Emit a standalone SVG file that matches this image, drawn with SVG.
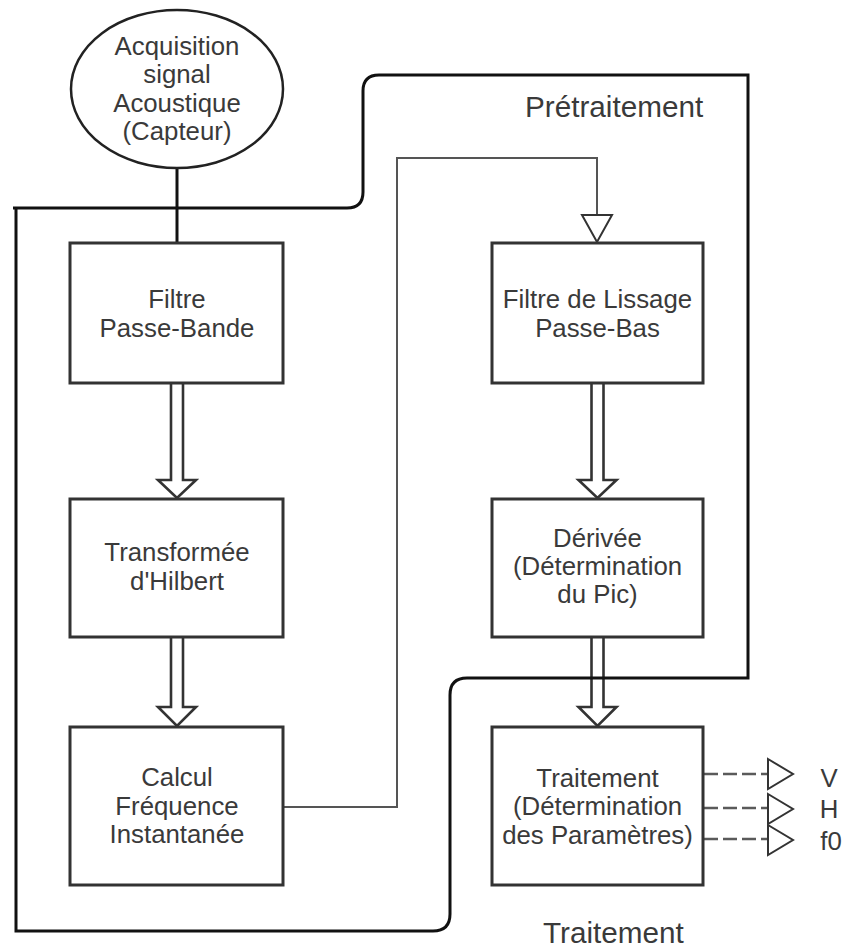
<svg xmlns="http://www.w3.org/2000/svg" width="846" height="948" viewBox="0 0 846 948">
  <style>
    .box { fill: #ffffff; stroke: #333333; stroke-width: 3; }
    .ell { fill: #ffffff; stroke: #222222; stroke-width: 2.5; }
    .txt { font-family: "Liberation Sans", Arial, sans-serif; font-size: 25.8px; fill: #3a3a3a; text-anchor: middle; }
    .lbl { font-family: "Liberation Sans", Arial, sans-serif; font-size: 29.7px; fill: #3a3a3a; }
    .flex { fill: #ffffff; stroke: #333333; stroke-width: 2.6; stroke-linejoin: miter; }
    .bound { fill: none; stroke: #111111; stroke-width: 3; }
    .thin { fill: none; stroke: #555555; stroke-width: 2; }
    .dash { fill: none; stroke: #5a5a5a; stroke-width: 2.5; stroke-dasharray: 14 5; }
    .open { fill: #ffffff; stroke: #333333; stroke-width: 2; stroke-linejoin: miter; }
  </style>
  <rect width="846" height="948" fill="#ffffff"/>

  <g id="connectors">
    <line x1="177" y1="168" x2="177" y2="243" stroke="#111111" stroke-width="3"/>
    <path class="thin" d="M283,807 H397 V158 H597 V215"/>
    <path class="open" d="M582,215 H612 L597,242 Z"/>
    <path class="flex" d="M171,384 V480 H158 L177,498 L196,480 H183 V384"/>
    <path class="flex" d="M171,638 V707 H158 L177,726 L196,707 H183 V638"/>
    <path class="flex" d="M591.5,384 V480 H578.5 L597.5,498 L616.5,480 H603.5 V384"/>
    <path class="flex" d="M591.5,638 V707 H578.5 L597.5,726 L616.5,707 H603.5 V638"/>
    <path class="dash" d="M704,774 H768"/>
    <path class="dash" d="M704,808 H768"/>
    <path class="dash" d="M704,839 H768"/>
    <path class="open" d="M768,759 L793,774 L768,789 Z"/>
    <path class="open" d="M768,794 L793,809 L768,824 Z"/>
    <path class="open" d="M768,825 L793,840 L768,855 Z"/>
  </g>

  <g id="boundaries">
    <path class="bound" d="M13,208 H347 Q363,208 363,192 V91 Q363,75 379,75 H748 V678 H467 Q450,678 450,695 V914 Q450,931 433,931 H16 V208"/>
  </g>

  <g id="acquisition">
    <ellipse class="ell" cx="177" cy="89" rx="106" ry="79"/>
    <text class="txt" x="177" y="55">Acquisition</text>
    <text class="txt" x="177" y="83">signal</text>
    <text class="txt" x="177" y="112">Acoustique</text>
    <text class="txt" x="177" y="140">(Capteur)</text>
  </g>

  <g id="filtre-passe-bande">
    <rect class="box" x="70" y="243" width="213" height="140"/>
    <text class="txt" x="177" y="308">Filtre</text>
    <text class="txt" x="177" y="337">Passe-Bande</text>
  </g>

  <g id="hilbert">
    <rect class="box" x="70" y="499" width="213" height="138"/>
    <text class="txt" x="177" y="561">Transformée</text>
    <text class="txt" x="177" y="590">d'Hilbert</text>
  </g>

  <g id="calcul">
    <rect class="box" x="70" y="727" width="213" height="158"/>
    <text class="txt" x="177" y="786">Calcul</text>
    <text class="txt" x="177" y="815">Fréquence</text>
    <text class="txt" x="177" y="843">Instantanée</text>
  </g>

  <g id="filtre-lissage">
    <rect class="box" x="492" y="243" width="211" height="140"/>
    <text class="txt" x="597.5" y="308">Filtre de Lissage</text>
    <text class="txt" x="597.5" y="337">Passe-Bas</text>
  </g>

  <g id="derivee">
    <rect class="box" x="492" y="499" width="211" height="138"/>
    <text class="txt" x="597.5" y="547">Dérivée</text>
    <text class="txt" x="597.5" y="575">(Détermination</text>
    <text class="txt" x="597.5" y="603">du Pic)</text>
  </g>

  <g id="traitement">
    <rect class="box" x="492" y="727" width="211" height="158"/>
    <text class="txt" x="597.5" y="787">Traitement</text>
    <text class="txt" x="597.5" y="815">(Détermination</text>
    <text class="txt" x="597.5" y="844">des Paramètres)</text>
  </g>

  <g id="labels">
    <text class="lbl" x="525" y="117">Prétraitement</text>
    <text class="lbl" x="543" y="943">Traitement</text>
    <text class="txt" x="829" y="787">V</text>
    <text class="txt" x="829" y="818">H</text>
    <text class="txt" x="831" y="850">f0</text>
  </g>
</svg>
